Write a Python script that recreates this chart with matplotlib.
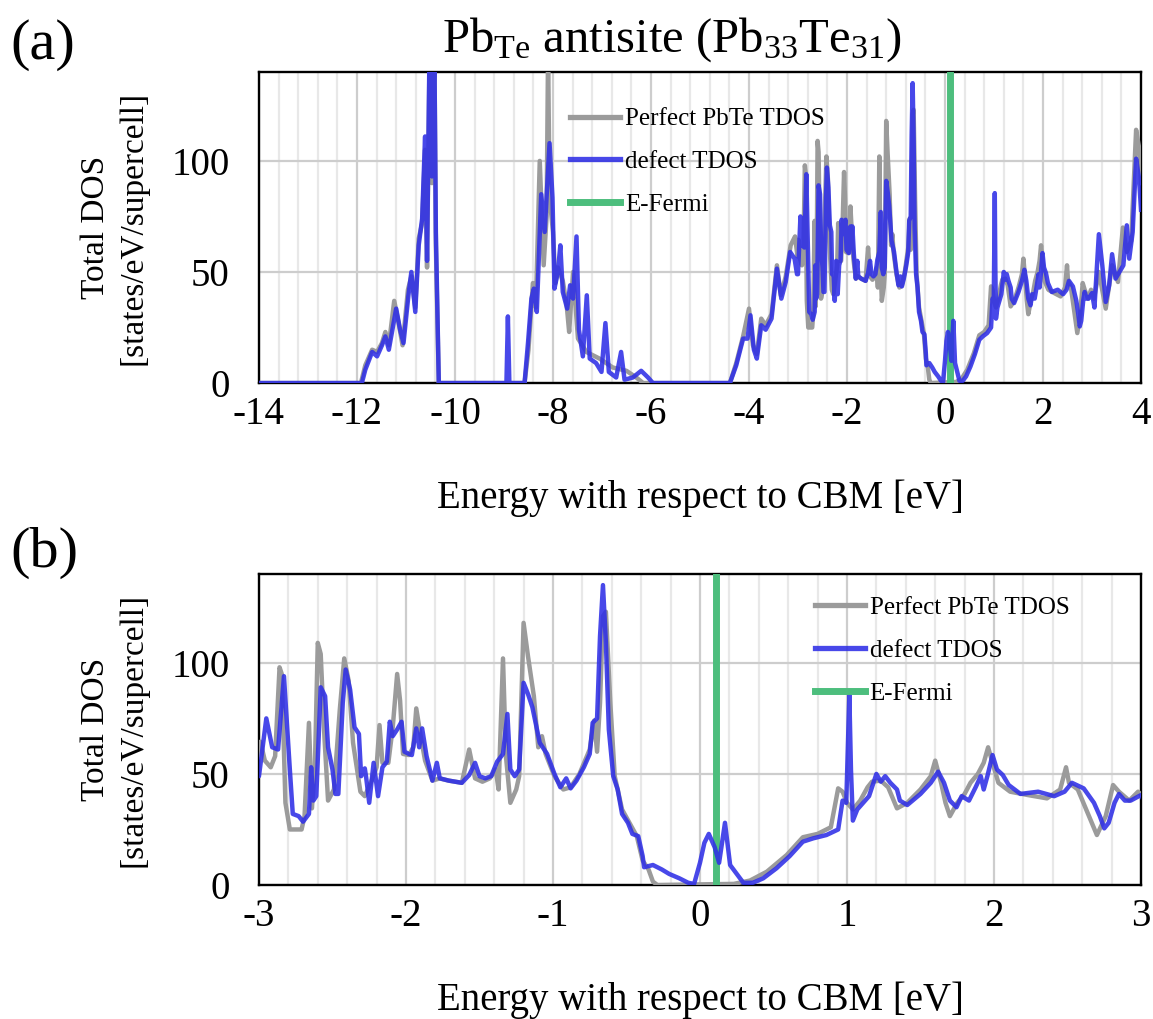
import numpy as np
import matplotlib
matplotlib.use("Agg")
import matplotlib.pyplot as plt
from matplotlib.ticker import MultipleLocator

plt.rcParams['font.family'] = ['Liberation Serif', 'DejaVu Serif']
plt.rcParams['mathtext.fontset'] = 'custom'
plt.rcParams['mathtext.rm'] = 'Liberation Serif'
plt.rcParams['mathtext.it'] = 'Liberation Serif:italic'
plt.rcParams['axes.unicode_minus'] = False

# ---------------- data ----------------
e_perfect = [
    -14.0, -11.92, -11.83, -11.69, -11.59, -11.49, -11.42, -11.35, -11.24, -11.15, -11.07,
    -10.96, -10.89, -10.81, -10.74, -10.67, -10.61, -10.57, -10.52, -10.47, -10.42, -10.39, -10.33,
    -8.58, -8.50, -8.41, -8.35, -8.27, -8.19, -8.13, -8.10, -8.07, -8.00, -7.95, -7.90, -7.80,
    -7.72, -7.67, -7.59, -7.49, -7.40, -7.32, -7.05, -6.78, -6.50, -6.30, -6.16,
    -4.39, -4.26, -4.12, -4.00, -3.92, -3.84, -3.75, -3.66, -3.54, -3.43, -3.35, -3.25, -3.15, -3.06,
    -3.01, -2.99, -2.96, -2.92, -2.89, -2.86, -2.845, -2.82, -2.79, -2.71, -2.69, -2.66, -2.64,
    -2.62, -2.60, -2.58, -2.555, -2.53, -2.49, -2.45, -2.42, -2.39, -2.36, -2.31, -2.28, -2.24,
    -2.20, -2.18, -2.16, -2.12, -2.09, -2.06, -2.04, -2.02, -1.98, -1.95, -1.93, -1.90, -1.87,
    -1.82, -1.77, -1.71, -1.62, -1.57, -1.53, -1.48, -1.43, -1.39, -1.37, -1.34, -1.32, -1.29,
    -1.25, -1.23, -1.20, -1.17, -1.13, -1.10, -1.075, -1.05, -0.99, -0.93, -0.88, -0.82, -0.75,
    -0.72, -0.70, -0.68, -0.66, -0.64, -0.61, -0.58, -0.53, -0.43, -0.39, -0.35, -0.32, -0.29,
    0.23, 0.34, 0.455, 0.59, 0.70, 0.80, 0.89, 0.94, 0.97, 1.00, 1.04, 1.09, 1.14, 1.17, 1.23,
    1.28, 1.34, 1.41, 1.50, 1.57, 1.60, 1.64, 1.67, 1.70, 1.75, 1.80, 1.84, 1.89, 1.93, 1.96,
    1.99, 2.03, 2.11, 2.23, 2.36, 2.45, 2.49, 2.51, 2.57, 2.64, 2.70, 2.76, 2.81, 2.85, 2.92,
    2.98, 3.04, 3.14, 3.28, 3.41, 3.53, 3.63, 3.71, 3.80, 3.90, 3.96, 4.0]
dos_perfect = [
    0, 0, 8, 15, 14, 18, 23, 17, 37, 27, 17,
    42, 48, 34, 65, 72, 105, 52, 145, 90, 150, 62, 0,
    0, 15, 45, 34, 100, 53, 75, 150, 84, 68, 45, 52, 46,
    35, 23, 50, 20, 17, 14, 11, 7, 5.5, 2.5, 0,
    0, 9, 21, 33.5, 17, 13, 29, 26, 31, 53, 39.5, 48, 62, 66,
    57, 64.5, 56, 53, 58, 98, 95, 37, 25, 25, 31, 73, 34.5,
    52, 109, 104, 67, 38, 43, 79, 102, 92, 64, 42, 40, 46,
    53, 72, 55, 55, 71, 95, 83, 59, 58.5, 62, 79.5, 67, 56,
    47, 48, 47, 46, 61, 48, 46.5, 48, 52, 43, 102, 58, 37,
    43, 49, 118, 103, 85, 62, 67, 59, 49, 43, 44, 50, 61,
    74, 60, 82, 121, 123, 82, 49, 34, 22, 11, 7, 1.5, 0,
    0.5, 2, 6, 13.5, 21.5, 23, 26, 43.5, 42, 37, 34, 38, 44, 46.5, 47,
    44, 34.5, 37, 43, 49, 56, 46, 37, 31, 37, 41, 46, 50, 55, 62,
    55, 46, 42, 40.5, 39, 43, 53, 46, 43, 32, 22.5, 31, 45, 42, 38,
    42, 38, 50, 33.5, 53, 45.5, 70, 59, 64, 114, 106, 90]

e_defect = [
    -14.0, -11.90, -11.83, -11.69, -11.59, -11.49, -11.42, -11.35, -11.20, -11.12, -11.05,
    -10.95, -10.89, -10.81, -10.74, -10.67, -10.61, -10.57, -10.52, -10.47, -10.42, -10.39, -10.33,
    -8.95, -8.92, -8.89,
    -8.58, -8.51, -8.44, -8.39, -8.33, -8.24, -8.17, -8.07, -8.01, -7.97, -7.90, -7.85, -7.80,
    -7.71, -7.65, -7.59, -7.52, -7.47, -7.39, -7.31, -7.25, -7.12, -7.01, -6.93, -6.86, -6.71,
    -6.61, -6.54, -6.37, -6.20, -6.06, -5.96,
    -4.39, -4.26, -4.12, -4.03, -3.97, -3.90, -3.84, -3.75, -3.66, -3.54, -3.43, -3.34, -3.25,
    -3.16, -3.07, -3.02,
    -3.00, -2.95, -2.91, -2.87, -2.83, -2.79, -2.77, -2.73, -2.70, -2.66, -2.645, -2.63, -2.61,
    -2.58, -2.55, -2.53, -2.50, -2.48, -2.46, -2.43, -2.41, -2.38, -2.35, -2.32, -2.305, -2.28,
    -2.27, -2.25, -2.22, -2.19, -2.16, -2.13, -2.11, -2.09, -2.06, -2.03, -2.01, -1.98, -1.96,
    -1.93, -1.91, -1.89, -1.86, -1.82, -1.79, -1.77, -1.71, -1.62, -1.57, -1.53, -1.50, -1.46,
    -1.42, -1.38, -1.34, -1.31, -1.29, -1.26, -1.23, -1.20, -1.17, -1.14, -1.09, -1.06, -1.04,
    -0.99, -0.95, -0.91, -0.88, -0.84, -0.79, -0.75, -0.73, -0.70, -0.68, -0.66, -0.64, -0.62,
    -0.59, -0.56, -0.53, -0.49, -0.46, -0.42, -0.39, -0.38, -0.32, -0.26, -0.21, -0.14, -0.08,
    -0.04, 0.00, 0.03, 0.06, 0.10, 0.13, 0.17, 0.205, 0.25, 0.295, 0.36, 0.43, 0.52, 0.61,
    0.70, 0.77, 0.86, 0.94, 0.97, 0.995, 1.016, 1.027, 1.04, 1.07, 1.11, 1.15, 1.18, 1.20,
    1.23, 1.26, 1.295, 1.34, 1.36, 1.41, 1.50, 1.57, 1.62, 1.66, 1.70, 1.745, 1.78, 1.83,
    1.875, 1.91, 1.93, 1.955, 1.99, 2.02, 2.06, 2.10, 2.18, 2.30, 2.41, 2.48, 2.53, 2.61,
    2.68, 2.72, 2.75, 2.78, 2.82, 2.85, 2.89, 2.93, 3.00,
    3.05, 3.14, 3.21, 3.28, 3.35, 3.41, 3.48, 3.56, 3.64, 3.71, 3.76, 3.83, 3.90, 3.96, 4.0]
dos_defect = [
    0, 0, 6, 14, 12, 17, 21, 15, 33.5, 24, 18,
    39.5, 50, 32, 62, 74, 111, 55, 150, 93, 150, 68, 0,
    0, 30, 0,
    0, 18, 38, 42.5, 32, 85, 68, 108, 83.5, 42.5, 50, 62, 41,
    33.5, 44, 38, 66, 24, 12, 39.5, 11, 9, 5, 27, 5, 2.5,
    14, 1.5, 2.5, 5.5, 2.5, 0,
    0, 8, 20, 20, 30.5, 15, 11, 26, 24, 29, 51.5, 38, 45.5,
    59, 56, 49,
    49, 75, 62, 61, 94, 52, 32, 31, 28.5, 32, 53, 38, 40,
    89, 85, 62, 52, 41, 41, 82, 97, 88, 71, 68, 49, 52.5,
    48, 37, 55, 40, 53, 55.5, 73.5, 67, 70, 73.5, 60, 59, 58.5,
    70.5, 62, 70.5, 58, 47, 55, 48, 47, 46, 49.5, 55, 49, 48,
    49, 55.5, 59, 77, 52, 49, 52, 91, 86, 80, 64, 61, 59,
    50, 44, 48, 43.5, 47, 53, 59, 73, 75, 112, 135, 109, 70,
    49, 43, 32, 28, 23, 22, 13, 8, 9, 7, 5, 3, 1,
    0.5, 10, 19, 23, 17, 10, 28, 9, 5, 1, 1, 3, 7.5, 13,
    19.5, 21, 22.5, 25, 38, 37, 85.5, 52, 29, 34, 37, 40, 46, 50,
    46.5, 49, 46, 43, 38, 36, 41, 46, 51, 46, 38, 35, 40, 38,
    44, 49, 43, 49, 58.5, 52, 49.5, 45, 41, 42, 40, 42, 46, 43.5,
    37, 31, 25.5, 28, 37, 41, 38, 38, 40.5,
    34, 67, 53, 36.5, 44, 58, 47, 50, 53, 71, 56, 68, 101, 92, 78]

e_fermi = 0.11

labels = ["Perfect PbTe TDOS", "defect TDOS", "E-Fermi"]
xlabel = "Energy with respect to CBM [eV]"
ylabel = "Total DOS\n[states/eV/supercell]"
title = r"Pb$_{\mathrm{Te}}$ antisite (Pb$_{33}$Te$_{31}$)"

# ---------------- styling ----------------
C_GRAY = "#9b9b9b"
C_BLUE = "#2f2fe6"
C_GREEN = "#4dbe7d"

fig = plt.figure(figsize=(11.53, 10.19), dpi=100)
ax1 = fig.add_axes([0.2246, 0.6241, 0.765, 0.3052])
ax2 = fig.add_axes([0.2246, 0.1315, 0.765, 0.3052])


def draw(ax, xlim, major, minor, leg_anchor):
    l1, = ax.plot(e_perfect, dos_perfect, color=C_GRAY, lw=3.2, zorder=3,
                  solid_joinstyle='round')
    l2, = ax.plot(e_defect, dos_defect, color=C_BLUE, lw=3.2, alpha=0.88, zorder=4,
                  solid_joinstyle='round')
    l3 = ax.axvline(e_fermi, color=C_GREEN, lw=5, zorder=3.5)
    ax.set_xlim(*xlim)
    ax.set_ylim(0, 140)
    ax.xaxis.set_major_locator(MultipleLocator(major))
    ax.xaxis.set_minor_locator(MultipleLocator(minor))
    ax.yaxis.set_major_locator(MultipleLocator(50))
    ax.grid(which='major', color='#cdcdcd', lw=1.6)
    ax.grid(which='minor', axis='x', color='#e8e8e8', lw=1.6)
    ax.set_axisbelow(True)
    ax.tick_params(which='both', length=0, labelsize=28)
    ax.tick_params(axis='x', pad=9)
    ax.tick_params(axis='y', pad=21)
    for s in ax.spines.values():
        s.set_linewidth(1.7)
        s.set_color('black')
    ax.set_xlabel(xlabel, fontsize=28)
    ax.xaxis.set_label_coords(0.5, -0.31)
    ax.set_ylabel(ylabel, fontsize=24, linespacing=1.3)
    ax.yaxis.set_label_coords(-0.125, 0.5)
    leg = ax.legend([l1, l2, l3], labels, loc='upper left', bbox_to_anchor=leg_anchor,
                    frameon=False, fontsize=18, handlelength=2.0, handletextpad=0.2,
                    labelspacing=0.81, borderaxespad=0, borderpad=0)
    leg.set_zorder(10)
    for h in leg.get_lines():
        h.set_linewidth(5 if h.get_color() == C_GREEN else 3.8)


draw(ax1, (-14, 4), 2, 0.4, (0.353, 0.885))
draw(ax2, (-3, 3), 1, 0.2, (0.630, 0.927))

fig.text(672 / 1153, 1 - 52 / 1019, title, fontsize=35, ha='center', va='baseline')
fig.text(10 / 1153, 1 - 59 / 1019, "(a)", fontsize=42, ha='left', va='baseline')
fig.text(10 / 1153, 1 - 567 / 1019, "(b)", fontsize=42, ha='left', va='baseline')

fig.savefig("out.png", dpi=100)
